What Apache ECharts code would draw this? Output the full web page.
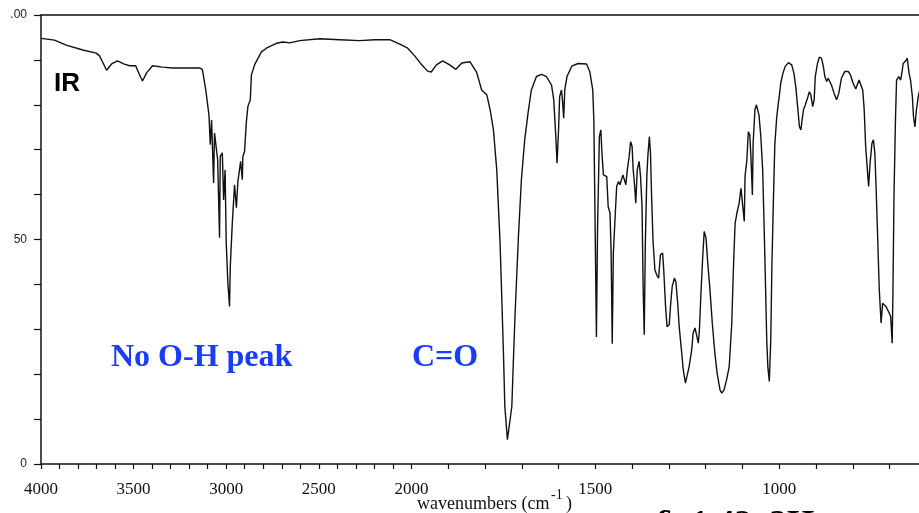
<!DOCTYPE html>
<html>
<head>
<meta charset="utf-8">
<script src="https://cdn.jsdelivr.net/npm/echarts@6/dist/echarts.min.js"></script>
<style>
  html, body { margin: 0; padding: 0; background: #fff; }
  #chart { width: 919px; height: 513px; }
</style>
</head>
<body>
<div id="chart"></div>
<script>
// ---- data ----
const wavenumbers = [4000,3927,3864,3774,3702,3684,3662,3646,3619,3587,3554,3522,3489,3468,3452,3430,3398,3344,3290,3225,3144,
3129,3111,3093,3086,3079,3068,3063,3053,3046,3036,3032,3021,3014,3006,3000,2991,2982,2978,2967,2955,2945,2937,2922,2913,2910,2901,2891,2883,2870,2864,2847,2810,2783,2729,2694,2657,2603,2495,2387,2279,2198,2117,2063,2020,
1991,1972,1956,1946,1932,1915,1896,1879,1863,1841,1823,1809,1795,1786,1777,1768,1759,1755,1750,1746,1739,1734,1727,1723,1718,1709,1701,1692,1683,1674,1660,1646,1633,1619,1613,1607,1604,1600,1597,1592,1589,1586,1583,1577,1564,1547,1524,1515,1507,1504,
1500,1497,1494,1489,1485,1482,1478,1474,1469,1465,1460,1457,1454,1451,1447,1442,1437,1433,1425,1421,1417,1413,1408,1404,1400,1397,1393,1390,1386,1381,1377,1373,1370,1367,1364,1360,1357,1353,1350,1347,1343,1338,1332,1328,1323,1317,1314,1309,1305,1299,1295,1291,1285,1281,1276,1272,1265,1261,1255,1250,1245,1238,1234,1229,1224,1220,1217,1213,1208,1204,1199,1195,1189,1182,1175,1169,1161,1156,1150,1143,1136,1129,1125,1120,1115,1109,1104,1099,1095,1093,1088,1084,1080,1077,1073,1071,1066,1062,1055,1050,1045,1042,1038,1034,1031,1027,1023,1020,1016,1012,1007,1003,
1000,996,990,984,975,966,960,955,950,945,941,938,934,929,922,918,914,909,905,902,896,891,885,880,876,871,867,862,858,851,844,838,831,822,812,806,799,792,788,783,778,773,769,765,759,757,753,748,744,740,737,733,728,723,719,714,710,705,701,697,693,691,688,684,681,675,670,666,663,656,652,647,643,638,635,631,627,622,615];

const transmittance = [94.8,94.4,93.3,92.2,91.5,90.9,89.1,87.7,89.1,89.8,89.1,88.7,88.7,86.7,85.3,87.1,88.7,88.4,88.2,88.2,88.2,
87.9,83.5,77.7,71.1,76.6,62.6,73.7,74.0,67.7,50.4,68.5,69.3,58.8,65.5,49.5,40.3,35.1,44.0,53.7,62.2,57.1,62.9,67.4,63.3,68.5,69.6,76.3,79.6,81.1,86.6,88.9,91.8,92.6,93.7,94.0,93.8,94.3,94.7,94.5,94.3,94.5,94.5,93.5,92.6,
90.9,88.9,87.5,87.3,88.9,89.8,88.9,87.9,89.3,89.6,87.3,83.3,82.2,78.9,74.4,65.5,49.3,38.8,25.4,12.8,5.4,5.0,12.8,22.5,33.7,50.7,63.3,72.2,78.1,83.3,86.3,86.8,86.3,84.4,81.1,72.2,67.0,74.4,81.8,83.3,80.7,77.0,83.3,86.3,88.6,89.2,89.1,87.4,83.3,76.6,
49.3,28.3,52.0,72.9,74.4,69.3,64.4,64.8,64.0,57.3,55.9,47.0,26.8,47.0,53.6,61.8,62.9,62.2,64.4,64.8,62.2,65.5,68.5,71.8,70.7,65.5,61.8,58.1,65.5,67.4,64.0,57.3,39.5,28.8,49.2,64.0,68.8,72.9,69.2,59.6,49.5,43.2,41.9,41.4,46.6,47.0,43.2,35.1,30.6,31.0,35.8,39.5,41.4,40.6,35.8,30.6,24.7,21.0,18.0,18.4,21.7,25.4,29.2,30.3,29.9,26.9,29.9,37.7,46.2,51.8,50.3,45.5,39.5,31.4,24.7,20.3,16.5,15.8,16.5,18.8,21.7,31.4,42.5,53.6,55.9,58.1,61.4,57.3,54.0,64.0,67.7,74.0,73.3,68.5,59.9,71.4,78.9,80.0,77.7,72.9,65.5,55.9,42.5,27.7,21.7,18.4,27.7,44.0,58.1,71.1,77.0,80.0,
81.8,84.8,87.0,88.5,89.4,88.9,87.0,84.0,79.6,75.1,74.4,76.6,78.9,80.0,81.8,82.9,82.2,79.6,81.1,86.3,89.2,90.6,90.4,88.5,86.3,85.2,85.9,85.5,84.4,82.6,81.1,82.6,85.9,87.4,87.4,86.6,84.8,83.5,83.7,85.5,85.9,83.3,78.9,70.7,64.0,61.8,67.0,71.4,72.2,69.2,62.5,52.1,38.8,31.4,35.8,36.2,35.1,34.3,34.7,32.9,26.9,37.3,59.6,76.6,85.5,86.3,85.5,87.4,89.2,89.8,90.4,87.0,85.5,81.8,77.4,75.1,78.9,81.8,84.4];

const xTickWavenumbers = [4000,3900,3800,3700,3600,3500,3400,3300,3200,3100,3000,2900,2800,2700,2600,2500,2400,2300,2200,2100,2000,1900,1800,1700,1600,1500,1400,1300,1200,1100,1000,900,800,700];
const xLabelWavenumbers = [4000,3500,3000,2500,2000,1500,1000];
const yLabels = {0: '0', 50: '50', 100: '.00'};

// IR axis: scale doubles below 2000 cm-1
const K = 1.986;
function toU(w) { return w >= 2000 ? 4000 - w : 2000 + (2000 - w) * K; }
function toW(u) { return u <= 2000 ? 4000 - u : 2000 - (u - 2000) / K; }
const X_MIN = toU(4000), X_MAX = toU(620);

const seriesData = wavenumbers.map((w, i) => [toU(w), transmittance[i]]);

const chart = echarts.init(document.getElementById('chart'), null, { renderer: 'canvas' });
const black = '#111';
chart.setOption({
  animation: false,
  backgroundColor: '#fff',
  grid: { left: 41, right: 0, top: 15, bottom: 49, containLabel: false },
  xAxis: [{
    type: 'value', min: X_MIN, max: X_MAX, position: 'bottom',
    axisLine: { show: true, onZero: false, lineStyle: { color: black, width: 1.5 } },
    axisTick: { show: true, inside: false, length: 5, lineStyle: { color: black, width: 1.2 },
      customValues: xTickWavenumbers.map(toU) },
    axisLabel: { show: true, margin: 17, color: black, fontFamily: 'Liberation Serif', fontSize: 17,
      customValues: xLabelWavenumbers.map(toU),
      formatter: v => String(Math.round(toW(v))) },
    splitLine: { show: false }
  }, {
    type: 'value', min: X_MIN, max: X_MAX, position: 'top',
    axisLine: { show: true, onZero: false, lineStyle: { color: black, width: 1.5 } },
    axisTick: { show: false }, axisLabel: { show: false }, splitLine: { show: false }
  }],
  yAxis: {
    type: 'value', min: 0, max: 100, interval: 10,
    axisLine: { show: true, onZero: false, lineStyle: { color: black, width: 1.5 } },
    axisTick: { show: true, inside: false, length: 7, lineStyle: { color: black, width: 1.2 } },
    axisLabel: { show: true, margin: 14, color: '#222', fontFamily: 'Liberation Sans', fontSize: 12,
      formatter: v => (yLabels[v] !== undefined ? yLabels[v] : '') },
    splitLine: { show: false }
  },
  series: [{
    type: 'line', xAxisIndex: 0, data: seriesData, showSymbol: false, symbol: 'none',
    lineStyle: { color: '#111', width: 1.4 }, clip: true, silent: true
  }],
  graphic: [
    { type: 'text', x: 54, y: 84, style: { text: 'IR', font: 'bold 26px "Liberation Sans"', fill: '#000', verticalAlign: 'middle', align: 'left' } },
    { type: 'text', x: 111, y: 357.5, style: { text: 'No O-H peak', font: 'bold 32px "Liberation Serif"', fill: '#1a3cff', verticalAlign: 'middle', align: 'left' } },
    { type: 'text', x: 412, y: 357.5, style: { text: 'C=O', font: 'bold 32px "Liberation Serif"', fill: '#1a3cff', verticalAlign: 'middle', align: 'left' } },
    { type: 'text', x: 417, y: 504, style: { text: 'wavenumbers (cm', font: '18px "Liberation Serif"', fill: '#111', verticalAlign: 'middle', align: 'left' } },
    { type: 'text', x: 551, y: 495, style: { text: '-1', font: '14px "Liberation Serif"', fill: '#111', verticalAlign: 'middle', align: 'left' } },
    { type: 'text', x: 566, y: 504, style: { text: ')', font: '18px "Liberation Serif"', fill: '#111', verticalAlign: 'middle', align: 'left' } },
    { type: 'text', x: 655, y: 525.5, style: { text: 'δ  1.42, 3H', font: 'bold 35px "Liberation Serif"', fill: '#000', verticalAlign: 'middle', align: 'left' } }
  ]
});
</script>
</body>
</html>
